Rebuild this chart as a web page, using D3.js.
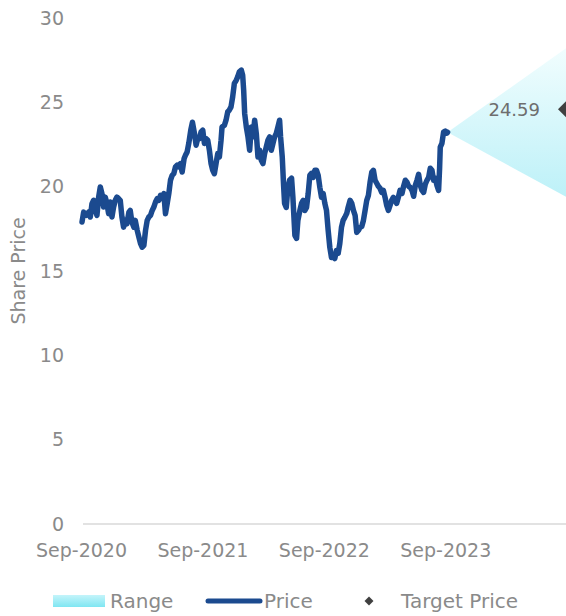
<!DOCTYPE html>
<html>
<head>
<meta charset="utf-8">
<script src="https://cdn.jsdelivr.net/npm/d3@7"></script>
<style>
  html, body { margin: 0; padding: 0; background: #ffffff; }
  svg { display: block; }
  text { font-family: "DejaVu Sans", sans-serif; }
</style>
</head>
<body>
<svg id="chart" width="566" height="616"></svg>
<script>
// ---------------- DATA ----------------
const priceDates = [
"2020-09-04","2020-09-09","2020-09-17","2020-09-24","2020-09-29","2020-10-04","2020-10-09","2020-10-14","2020-10-19","2020-10-24",
"2020-10-29","2020-11-03","2020-11-08","2020-11-13","2020-11-18","2020-11-23","2020-11-28","2020-12-03","2020-12-08","2020-12-13",
"2020-12-18","2020-12-23","2020-12-28","2021-01-02","2021-01-07","2021-01-12","2021-01-17","2021-01-23","2021-01-27","2021-02-01",
"2021-02-07","2021-02-11","2021-02-17","2021-02-22","2021-02-27","2021-03-04","2021-03-09","2021-03-14","2021-03-19","2021-03-24",
"2021-03-29","2021-04-03","2021-04-08","2021-04-13","2021-04-18","2021-04-23","2021-04-28","2021-05-03","2021-05-08","2021-05-13",
"2021-05-18","2021-05-23","2021-05-28","2021-06-02","2021-06-07","2021-06-12","2021-06-17","2021-06-22","2021-06-27","2021-07-02",
"2021-07-08","2021-07-12","2021-07-17","2021-07-22","2021-07-28","2021-08-02","2021-08-08","2021-08-13","2021-08-18","2021-08-23",
"2021-08-28","2021-09-02","2021-09-07","2021-09-12","2021-09-17","2021-09-22","2021-09-27","2021-10-02","2021-10-07","2021-10-12",
"2021-10-17","2021-10-22","2021-10-27","2021-10-30","2021-11-06","2021-11-11","2021-11-16","2021-11-21","2021-11-26","2021-12-01",
"2021-12-06","2021-12-12","2021-12-16","2021-12-21","2021-12-27","2021-12-31","2022-01-03","2022-01-06","2022-01-11","2022-01-16",
"2022-01-21","2022-01-26","2022-01-31","2022-02-05","2022-02-10","2022-02-15","2022-02-20","2022-02-25","2022-03-02","2022-03-07",
"2022-03-12","2022-03-17","2022-03-22","2022-03-27","2022-04-01","2022-04-06","2022-04-11","2022-04-16","2022-04-21","2022-04-24",
"2022-04-29","2022-05-03","2022-05-06","2022-05-11","2022-05-16","2022-05-21","2022-05-27","2022-05-31","2022-06-06","2022-06-11",
"2022-06-15","2022-06-21","2022-06-26","2022-07-01","2022-07-06","2022-07-11","2022-07-16","2022-07-21","2022-07-26","2022-07-31",
"2022-08-05","2022-08-10","2022-08-15","2022-08-20","2022-08-25","2022-08-30","2022-09-04","2022-09-09","2022-09-14","2022-09-19",
"2022-09-24","2022-09-29","2022-10-04","2022-10-09","2022-10-14","2022-10-19","2022-10-24","2022-10-29","2022-11-03","2022-11-09",
"2022-11-13","2022-11-19","2022-11-24","2022-11-29","2022-12-04","2022-12-09","2022-12-14","2022-12-19","2022-12-24","2022-12-29",
"2023-01-03","2023-01-08","2023-01-13","2023-01-18","2023-01-23","2023-01-28","2023-02-02","2023-02-07","2023-02-12","2023-02-17",
"2023-02-22","2023-02-27","2023-03-04","2023-03-09","2023-03-14","2023-03-19","2023-03-24","2023-03-29","2023-04-03","2023-04-08",
"2023-04-13","2023-04-18","2023-04-24","2023-04-28","2023-05-04","2023-05-09","2023-05-14","2023-05-19","2023-05-24","2023-05-29",
"2023-06-03","2023-06-08","2023-06-13","2023-06-18","2023-06-23","2023-06-28","2023-07-03","2023-07-08","2023-07-13","2023-07-18",
"2023-07-23","2023-07-28","2023-08-02","2023-08-07","2023-08-12","2023-08-15","2023-08-17","2023-08-22","2023-08-27","2023-09-01",
"2023-09-06","2023-09-08"
];
const priceValues = [
17.90,18.49,18.30,18.49,18.20,18.99,19.19,18.59,18.30,19.38,
19.98,19.59,18.79,19.38,18.99,18.40,19.09,18.20,18.79,19.19,
19.38,19.29,19.19,18.20,17.60,18.00,17.80,18.49,18.59,17.90,
17.60,18.00,17.41,17.01,16.62,16.41,16.52,17.41,18.00,18.20,
18.30,18.59,18.79,19.09,19.29,19.19,19.49,19.38,19.59,18.40,
18.99,19.59,20.38,20.67,20.77,21.17,21.27,21.17,21.37,20.87,
21.67,21.86,22.06,22.57,23.35,23.82,23.17,22.46,22.87,22.85,
23.25,23.35,22.56,22.85,22.75,22.16,21.37,20.97,20.77,21.37,
21.96,21.76,22.75,23.54,23.64,23.94,24.43,24.54,24.73,25.33,
26.12,26.32,26.51,26.81,26.91,26.61,25.72,24.34,23.54,22.95,
22.16,23.54,22.95,23.94,23.15,21.76,22.16,21.56,21.37,21.96,
22.36,22.75,22.95,22.16,22.56,22.95,23.15,23.54,23.94,22.95,
21.76,20.08,19.01,18.77,19.96,20.38,20.50,19.37,17.11,16.93,
18.00,18.59,19.01,19.19,18.59,18.77,19.60,20.67,20.79,20.55,
20.97,20.97,20.67,19.96,19.37,19.60,19.01,18.59,17.41,16.40,
15.80,15.92,15.74,16.22,16.04,16.63,17.58,18.00,18.18,18.42,
18.77,19.19,19.01,18.59,18.30,17.29,17.41,17.58,17.64,18.00,
18.59,19.19,19.49,20.26,20.85,20.97,20.38,20.20,20.02,19.90,
19.66,19.78,19.37,18.89,18.59,18.89,19.19,19.37,19.19,19.01,
19.37,19.78,19.60,19.96,20.38,20.26,20.02,19.96,19.78,19.43,
20.08,20.38,20.73,20.08,19.78,19.66,20.14,20.38,20.55,21.09,
20.97,20.38,20.50,20.08,19.78,21.09,22.34,22.57,23.23,23.29,
23.17,23.23
];
// Forecast range (cone) from the last price to the target date
const rangeDates = ["2023-09-08", "2024-08-29"];
const rangeHigh = [23.23, 28.2];
const rangeLow  = [23.23, 19.4];
// Target price
const targetDate = "2024-08-29";
const targetValue = 24.59;
// Axis ticks
const xTickDates = ["2020-09-01", "2021-09-01", "2022-09-01", "2023-09-01"];
const yTicks = [0, 5, 10, 15, 20, 25, 30];
const legendLabels = ["Range", "Price", "Target Price"];

// ---------------- CHART ----------------
const parse = d3.timeParse("%Y-%m-%d");
const svg = d3.select("#chart");

const x = d3.scaleTime()
  .domain([parse("2020-09-01"), parse("2024-09-01")])
  .range([81, 567]);
const y = d3.scaleLinear().domain([0, 30]).range([524, 18]);

const priceData = priceDates.map((d, i) => ({ date: parse(d), value: priceValues[i] }));
const rangeData = rangeDates.map((d, i) => ({ date: parse(d), hi: rangeHigh[i], lo: rangeLow[i] }));

const defs = svg.append("defs");
const coneGrad = defs.append("linearGradient")
  .attr("id", "coneGrad").attr("gradientUnits", "userSpaceOnUse")
  .attr("x1", 0).attr("y1", y(28.2)).attr("x2", 0).attr("y2", y(19.4));
coneGrad.append("stop").attr("offset", "0%").attr("stop-color", "#f1fdfe");
coneGrad.append("stop").attr("offset", "100%").attr("stop-color", "#bdf1f8");

const legGrad = defs.append("linearGradient")
  .attr("id", "legGrad").attr("x1", 0).attr("y1", 0).attr("x2", 0).attr("y2", 1);
legGrad.append("stop").attr("offset", "0%").attr("stop-color", "#c4f4fa");
legGrad.append("stop").attr("offset", "100%").attr("stop-color", "#7fe6f2");

// baseline (zero line)
svg.append("line")
  .attr("x1", 83).attr("x2", 566)
  .attr("y1", y(0)).attr("y2", y(0))
  .attr("stroke", "#d9d9d9").attr("stroke-width", 1.5);

// Y axis
const yAxis = svg.append("g")
  .attr("transform", `translate(${x(parse("2020-09-01"))},0)`)
  .call(d3.axisLeft(y).tickValues(yTicks).tickSize(0).tickPadding(17).tickFormat(d3.format("d")));
yAxis.select(".domain").remove();
yAxis.selectAll("text")
  .attr("font-family", "DejaVu Sans").attr("font-size", 19).attr("fill", "#8a8a8a");

// X axis
const xAxis = svg.append("g")
  .attr("transform", `translate(0,${y(0)})`)
  .call(d3.axisBottom(x).tickValues(xTickDates.map(parse)).tickSize(0).tickPadding(20)
    .tickFormat(d3.timeFormat("%b-%Y")));
xAxis.select(".domain").remove();
xAxis.selectAll("text")
  .attr("font-family", "DejaVu Sans").attr("font-size", 19).attr("fill", "#8a8a8a");

// Y title
svg.append("text")
  .attr("transform", `translate(25,${(y(0) + y(30)) / 2}) rotate(-90)`)
  .attr("text-anchor", "middle")
  .attr("font-size", 19).attr("fill", "#8a8a8a")
  .text("Share Price");

// Cone
const area = d3.area()
  .x(d => x(d.date)).y0(d => y(d.lo)).y1(d => y(d.hi));
svg.append("path").datum(rangeData)
  .attr("d", area).attr("fill", "url(#coneGrad)");

// Price line
const line = d3.line().x(d => x(d.date)).y(d => y(d.value));
svg.append("path").datum(priceData)
  .attr("d", line)
  .attr("fill", "none").attr("stroke", "#1b4a8f")
  .attr("stroke-width", 5.5).attr("stroke-linejoin", "round").attr("stroke-linecap", "round");

// Target marker + label
const tx = x(parse(targetDate)), ty = y(targetValue);
svg.append("path")
  .attr("d", d3.symbol(d3.symbolSquare, 128)())
  .attr("transform", `translate(${tx},${ty}) rotate(45)`)
  .attr("fill", "#404040");
svg.append("text")
  .attr("x", tx - 26).attr("y", ty).attr("dy", "0.35em")
  .attr("text-anchor", "end").attr("font-size", 18).attr("fill", "#6e6e6e")
  .text(d3.format(".2f")(targetValue));

// Legend
const ly = 601;
const leg = svg.append("g");
leg.append("rect").attr("x", 53).attr("y", ly - 6).attr("width", 52).attr("height", 12)
  .attr("fill", "url(#legGrad)");
leg.append("text").attr("x", 110).attr("y", ly).attr("dy", "0.35em")
  .attr("font-size", 20).attr("fill", "#8a8a8a").text(legendLabels[0]);
leg.append("line").attr("x1", 208).attr("x2", 260).attr("y1", ly).attr("y2", ly)
  .attr("stroke", "#1b4a8f").attr("stroke-width", 5).attr("stroke-linecap", "round");
leg.append("text").attr("x", 264).attr("y", ly).attr("dy", "0.35em")
  .attr("font-size", 20).attr("fill", "#8a8a8a").text(legendLabels[1]);
leg.append("path")
  .attr("d", d3.symbol(d3.symbolSquare, 40)())
  .attr("transform", `translate(369,${ly}) rotate(45)`)
  .attr("fill", "#404040");
leg.append("text").attr("x", 401).attr("y", ly).attr("dy", "0.35em")
  .attr("font-size", 20).attr("fill", "#8a8a8a").text(legendLabels[2]);
</script>
</body>
</html>
